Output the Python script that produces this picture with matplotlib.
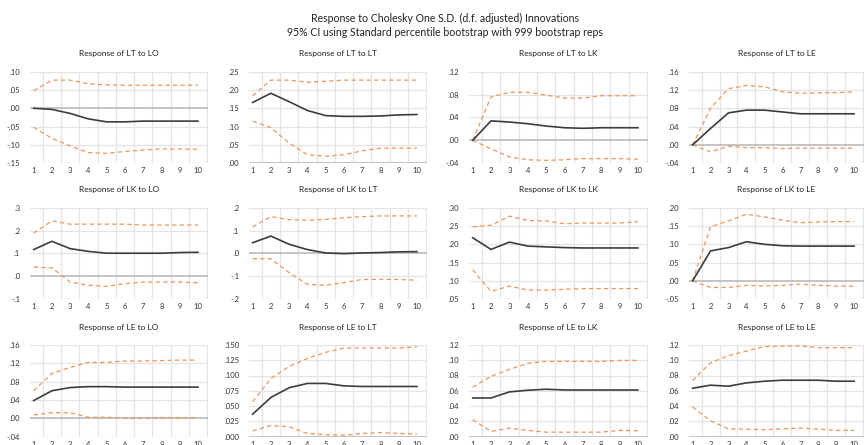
import matplotlib
matplotlib.use("Agg")
import matplotlib.pyplot as plt
import numpy as np

plt.rcParams['font.family'] = ['Lato', 'DejaVu Sans']

periods = list(range(1, 11))

titles = ["Response of LT to LO", "Response of LT to LT", "Response of LT to LK", "Response of LT to LE",
          "Response of LK to LO", "Response of LK to LT", "Response of LK to LK", "Response of LK to LE",
          "Response of LE to LO", "Response of LE to LT", "Response of LE to LK", "Response of LE to LE"]

# impulse responses (black) and bootstrap bounds (orange dashed)
resp_lt_lo = [0.000, -0.003, -0.014, -0.029, -0.037, -0.037, -0.035, -0.035, -0.035, -0.035]
up_lt_lo = [0.048, 0.077, 0.077, 0.067, 0.064, 0.063, 0.063, 0.063, 0.063, 0.063]
lo_lt_lo = [-0.052, -0.082, -0.103, -0.121, -0.123, -0.118, -0.114, -0.111, -0.111, -0.112]

resp_lt_lt = [0.166, 0.191, 0.168, 0.144, 0.130, 0.128, 0.128, 0.129, 0.132, 0.133]
up_lt_lt = [0.184, 0.227, 0.227, 0.221, 0.224, 0.227, 0.227, 0.227, 0.227, 0.227]
lo_lt_lt = [0.115, 0.097, 0.055, 0.023, 0.019, 0.023, 0.034, 0.041, 0.041, 0.041]

resp_lt_lk = [0.000, 0.034, 0.032, 0.029, 0.025, 0.022, 0.021, 0.022, 0.022, 0.022]
up_lt_lk = [0.000, 0.076, 0.084, 0.084, 0.079, 0.074, 0.074, 0.078, 0.078, 0.078]
lo_lt_lk = [0.000, -0.015, -0.029, -0.034, -0.035, -0.034, -0.032, -0.032, -0.032, -0.033]

resp_lt_le = [0.000, 0.036, 0.070, 0.076, 0.076, 0.072, 0.068, 0.068, 0.068, 0.068]
up_lt_le = [0.000, 0.080, 0.123, 0.130, 0.127, 0.116, 0.113, 0.114, 0.114, 0.116]
lo_lt_le = [0.000, -0.015, -0.003, -0.006, -0.006, -0.008, -0.007, -0.007, -0.007, -0.007]

resp_lk_lo = [0.117, 0.153, 0.121, 0.109, 0.101, 0.101, 0.101, 0.101, 0.104, 0.105]
up_lk_lo = [0.189, 0.242, 0.228, 0.228, 0.228, 0.228, 0.224, 0.224, 0.224, 0.224]
lo_lk_lo = [0.040, 0.037, -0.025, -0.039, -0.044, -0.032, -0.025, -0.025, -0.025, -0.028]

resp_lk_lt = [0.047, 0.076, 0.040, 0.017, 0.002, -0.001, 0.002, 0.004, 0.007, 0.008]
up_lk_lt = [0.116, 0.161, 0.148, 0.145, 0.149, 0.156, 0.161, 0.164, 0.164, 0.164]
lo_lk_lt = [-0.023, -0.023, -0.084, -0.135, -0.139, -0.127, -0.114, -0.113, -0.114, -0.117]

resp_lk_lk = [0.218, 0.186, 0.206, 0.195, 0.193, 0.191, 0.190, 0.190, 0.190, 0.190]
up_lk_lk = [0.248, 0.252, 0.277, 0.265, 0.264, 0.256, 0.258, 0.258, 0.258, 0.262]
lo_lk_lk = [0.130, 0.071, 0.086, 0.075, 0.075, 0.077, 0.079, 0.079, 0.079, 0.079]

resp_lk_le = [0.000, 0.082, 0.091, 0.107, 0.100, 0.096, 0.095, 0.095, 0.095, 0.095]
up_lk_le = [0.000, 0.148, 0.164, 0.182, 0.175, 0.166, 0.159, 0.161, 0.162, 0.162]
lo_lk_le = [0.000, -0.018, -0.018, -0.012, -0.014, -0.012, -0.009, -0.012, -0.014, -0.014]

resp_le_lo = [0.0385, 0.060, 0.067, 0.069, 0.069, 0.068, 0.068, 0.068, 0.068, 0.068]
up_le_lo = [0.060, 0.098, 0.111, 0.122, 0.122, 0.125, 0.125, 0.126, 0.127, 0.127]
lo_le_lo = [0.007, 0.012, 0.012, 0.002, 0.002, 0.000, 0.000, 0.001, 0.001, 0.000]

resp_le_lt = [0.0366, 0.064, 0.080, 0.087, 0.087, 0.083, 0.082, 0.082, 0.082, 0.082]
up_le_lt = [0.057, 0.095, 0.115, 0.128, 0.138, 0.145, 0.145, 0.145, 0.145, 0.147]
lo_le_lt = [0.009, 0.018, 0.016, 0.005, 0.003, 0.002, 0.005, 0.0065, 0.005, 0.004]

resp_le_lk = [0.0505, 0.0505, 0.0585, 0.0607, 0.062, 0.061, 0.061, 0.061, 0.061, 0.061]
up_le_lk = [0.0646, 0.079, 0.088, 0.096, 0.0985, 0.0985, 0.0985, 0.0985, 0.0998, 0.0998]
lo_le_lk = [0.022, 0.0066, 0.011, 0.008, 0.0057, 0.0057, 0.0057, 0.0057, 0.008, 0.0075]

resp_le_le = [0.0633, 0.0673, 0.066, 0.0703, 0.0725, 0.0738, 0.0738, 0.0738, 0.0725, 0.0725]
up_le_le = [0.0734, 0.0967, 0.106, 0.112, 0.118, 0.1187, 0.1187, 0.1165, 0.1165, 0.1165]
lo_le_le = [0.0387, 0.0207, 0.010, 0.0097, 0.0088, 0.010, 0.011, 0.0097, 0.008, 0.008]

responses = [resp_lt_lo, resp_lt_lt, resp_lt_lk, resp_lt_le,
             resp_lk_lo, resp_lk_lt, resp_lk_lk, resp_lk_le,
             resp_le_lo, resp_le_lt, resp_le_lk, resp_le_le]
uppers = [up_lt_lo, up_lt_lt, up_lt_lk, up_lt_le,
          up_lk_lo, up_lk_lt, up_lk_lk, up_lk_le,
          up_le_lo, up_le_lt, up_le_lk, up_le_le]
lowers = [lo_lt_lo, lo_lt_lt, lo_lt_lk, lo_lt_le,
          lo_lk_lo, lo_lk_lt, lo_lk_lk, lo_lk_le,
          lo_le_lo, lo_le_lt, lo_le_lk, lo_le_le]

# y-axis settings: (min, max, step, decimals)
yaxes = [(-0.15, 0.10, 0.05, 2), (0.0, 0.25, 0.05, 2), (-0.04, 0.12, 0.04, 2), (-0.04, 0.16, 0.04, 2),
         (-0.1, 0.3, 0.1, 1), (-0.2, 0.2, 0.1, 1), (0.05, 0.30, 0.05, 2), (-0.05, 0.20, 0.05, 2),
         (-0.04, 0.16, 0.04, 2), (0.0, 0.150, 0.025, 3), (0.0, 0.12, 0.02, 2), (0.0, 0.12, 0.02, 2)]

W, H = 864, 445
fig = plt.figure(figsize=(W / 100, H / 100), dpi=100)
fig.patch.set_facecolor('white')

fig.text(0.515, 1 - 18 / H, "Response to Cholesky One S.D. (d.f. adjusted) Innovations",
         ha='center', va='center', fontsize=7.6, color='#222222')
fig.text(0.515, 1 - 33 / H, "95% CI using Standard percentile bootstrap with 999 bootstrap reps",
         ha='center', va='center', fontsize=7.6, color='#222222')

col_left = [30, 249, 469, 689]
col_width = [178, 178, 179, 175]
row_top = [71.7, 207.7, 345.0]
row_h = 91.5


def fmt(v, d):
    s = f"{abs(v):.{d}f}"
    if s.startswith("0"):
        s = s[1:]
    if v < -1e-12:
        s = "-" + s
    return s


for i in range(12):
    r, c = divmod(i, 4)
    left = col_left[c] / W
    bottom = 1 - (row_top[r] + row_h) / H
    ax = fig.add_axes([left, bottom, col_width[c] / W, row_h / H])
    ymin, ymax, step, dec = yaxes[i]
    ticks = np.round(np.arange(ymin, ymax + step / 2, step), 6)
    ax.set_ylim(ymin, ymax)
    ax.set_xlim(0.8, 10.55)
    ax.set_yticks(ticks)
    ax.set_yticklabels([fmt(t, dec) for t in ticks])
    ax.set_xticks(periods)
    ax.set_xticklabels([str(p) for p in periods])
    for s in ax.spines.values():
        s.set_visible(False)
    ax.tick_params(length=0, labelsize=5.5, colors='#333333')
    ax.tick_params(axis='y', pad=7)
    ax.tick_params(axis='x', pad=3)
    for t in ticks:
        if abs(t) < 1e-12:
            ax.axhline(t, color='#b4b4b4', lw=1.1, zorder=1)
        else:
            ax.axhline(t, color='#e4e4e4', lw=0.9, zorder=0)
    for xv in np.arange(1.5, 11.0, 1.0):
        ax.axvline(xv, color='#e4e4e4', lw=0.9, zorder=0)
    ax.plot(periods, uppers[i], color='#e8995f', lw=0.9, ls=(0, (3.5, 2.5)), zorder=2)
    ax.plot(periods, lowers[i], color='#e8995f', lw=0.9, ls=(0, (3.5, 2.5)), zorder=2)
    ax.plot(periods, responses[i], color='#3c3c3c', lw=1.2, zorder=3)
    ax.set_title(titles[i], fontsize=6, color='#222222', pad=11)

fig.savefig("out.png", dpi=100, facecolor='white')
